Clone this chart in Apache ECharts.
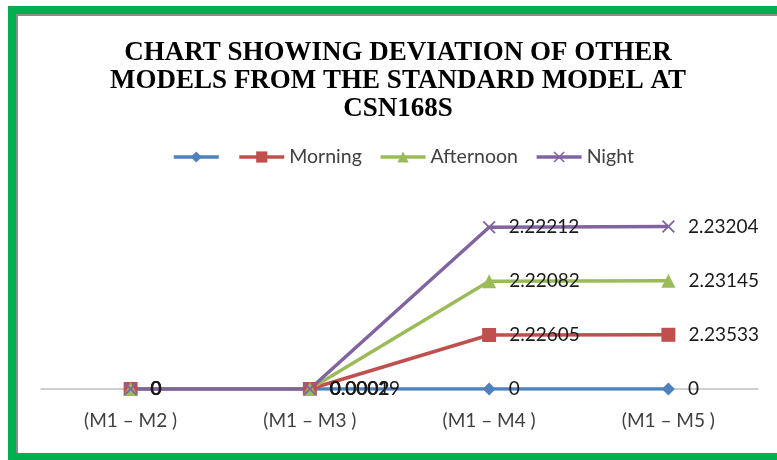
<!DOCTYPE html>
<html>
<head>
<meta charset="utf-8">
<script src="https://cdn.jsdelivr.net/npm/echarts@6/dist/echarts.min.js"></script>
<style>
  html, body { margin: 0; padding: 0; background: #fff; }
  #main { width: 777px; height: 460px; }
</style>
</head>
<body>
<div id="main"></div>
<script>
// categories and series values
const categories = ['(M1 – M2 )', '(M1 – M3 )', '(M1 – M4 )', '(M1 – M5 )']
const baseValues = [0, 0, 0, 0]
const morningValues = [0, 0.0001, 2.22605, 2.23533]
const afternoonValues = [0, 0.0002, 2.22082, 2.23145]
const nightValues = [0, 0.00029, 2.22212, 2.23204]

const crossPath = 'path://M0,1L1,0L5,4L9,0L10,1L6,5L10,9L9,10L5,6L1,10L0,9L4,5Z'

const chartObj = echarts.init(document.getElementById('main'))

const labelStyle = {
  show: true,
  position: 'right',
  distance: 13,
  color: '#1a1a1a',
  fontFamily: 'Lato',
  fontSize: 19
}

function makeSeries(name, data, color, symbol, size) {
  return {
    name: name,
    type: 'line',
    stack: 'total',
    data: data,
    symbol: symbol,
    symbolSize: size,
    lineStyle: { color: color, width: 3.5 },
    itemStyle: { color: color },
    label: labelStyle,
    animation: false
  }
}

const option = {
  backgroundColor: '#fff',
  title: {
    text: 'CHART SHOWING DEVIATION OF OTHER\nMODELS FROM THE STANDARD MODEL AT\nCSN168S',
    left: 398,
    top: 39,
    padding: 0,
    textAlign: 'center',
    textStyle: {
      fontFamily: 'Liberation Serif',
      fontWeight: 'bold',
      fontSize: 27,
      lineHeight: 28,
      color: '#000'
    }
  },
  legend: {
    left: 167,
    top: 142,
    itemWidth: 45,
    itemHeight: 14,
    itemGap: 17,
    lineStyle: { width: 3.5 },
    formatter: name => (name === 'Series1' ? '' : name),
    textStyle: { fontFamily: 'Lato', fontSize: 19.5, color: '#404040' },
    data: ['Series1', 'Morning', 'Afternoon', 'Night']
  },
  grid: { left: 41, right: 19, top: 195, bottom: 71 },
  xAxis: {
    type: 'category',
    data: categories,
    boundaryGap: true,
    axisLine: { lineStyle: { color: '#bfbfbf', width: 1.5 } },
    axisTick: { show: false },
    axisLabel: { margin: 22, fontFamily: 'Lato', fontSize: 19, color: '#404040' }
  },
  yAxis: {
    type: 'value',
    min: 0,
    max: 8,
    show: false,
    splitLine: { show: false }
  },
  series: [
    makeSeries('Series1', baseValues, '#4f81bd', 'diamond', 13),
    makeSeries('Morning', morningValues, '#c0504d', 'rect', 14),
    makeSeries('Afternoon', afternoonValues, '#9bbb59', 'triangle', 14),
    makeSeries('Night', nightValues, '#8064a2', crossPath, 13)
  ],
  graphic: [
    // green frame with grey inner edge
    { type: 'rect', shape: { x: 8, y: 6, width: 769, height: 8 }, style: { fill: '#00b050' }, silent: true },
    { type: 'rect', shape: { x: 8, y: 6, width: 8, height: 454 }, style: { fill: '#00b050' }, silent: true },
    { type: 'rect', shape: { x: 8, y: 453, width: 769, height: 7 }, style: { fill: '#00b050' }, silent: true },
    { type: 'rect', shape: { x: 16, y: 14, width: 761, height: 2 }, style: { fill: '#8c8c8c' }, silent: true },
    { type: 'rect', shape: { x: 16, y: 14, width: 2, height: 439 }, style: { fill: '#8c8c8c' }, silent: true }
  ]
}

chartObj.setOption(option)
</script>
</body>
</html>
